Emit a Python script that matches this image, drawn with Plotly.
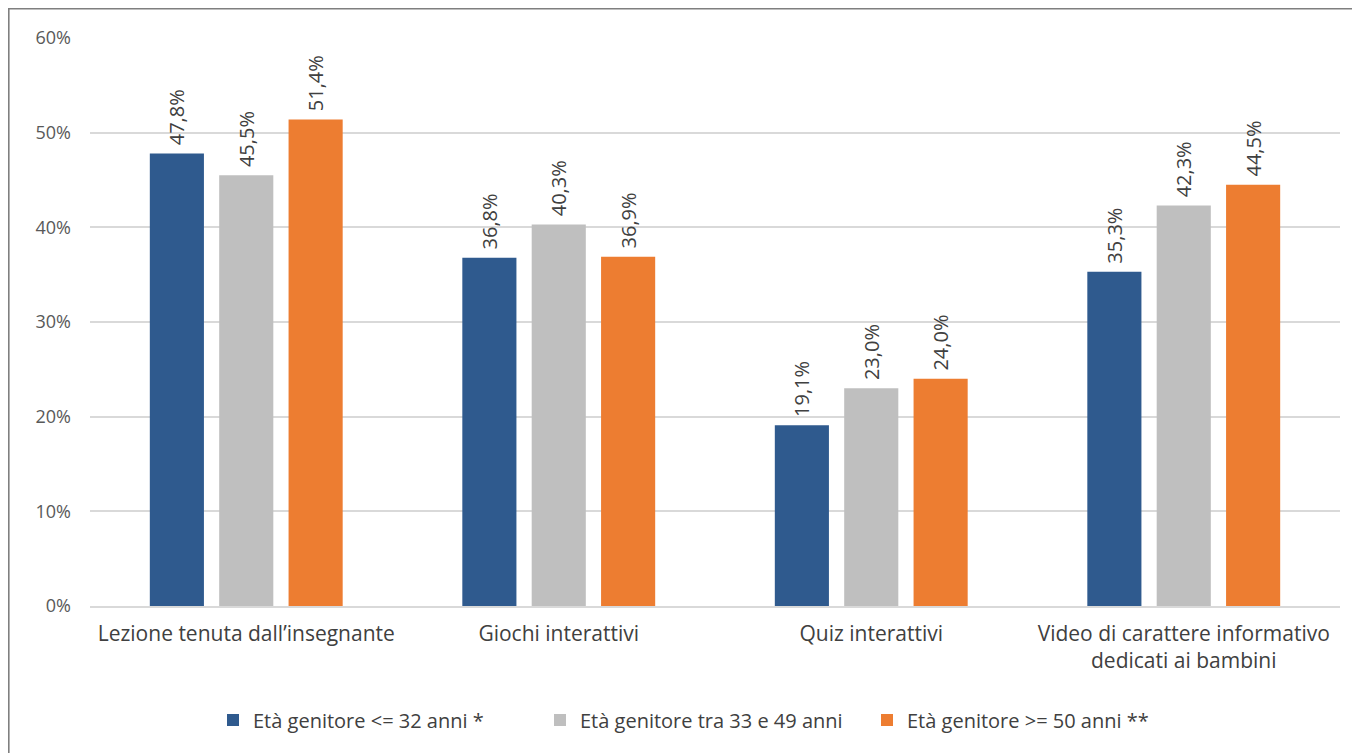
import plotly.graph_objects as go

categories = ["Lezione tenuta dall\u2019insegnante", "Giochi interattivi", "Quiz interattivi",
              "Video di carattere informativo<br>dedicati ai bambini"]
series_names = ["Et\u00e0 genitore <= 32 anni *", "Et\u00e0 genitore tra 33 e 49 anni", "Et\u00e0 genitore >= 50 anni **"]
v_young = [47.8, 36.8, 19.1, 35.3]
v_mid = [45.5, 40.3, 23.0, 42.3]
v_old = [51.4, 36.9, 24.0, 44.5]
colors = ["#2F5A8E", "#BFBFBF", "#ED7D31"]
tick_vals = [0, 10, 20, 30, 40, 50, 60]
tick_text = ["0%", "10%", "20%", "30%", "40%", "50%", "60%"]

# page body has an 8px default margin, so the figure starts at (8, 8)
W, H = 1352, 745
L, R, T, B = 82, 20, 30, 147

fig = go.Figure()
for name, vals, col in zip(series_names, [v_young, v_mid, v_old], colors):
    fig.add_trace(go.Bar(
        x=categories, y=vals, name=name, marker_color=col, marker_line_width=0,
        text=["\u00a0" + f"{v:.1f}%".replace(".", ",") + "\u00a0" for v in vals],
        textposition="outside", textangle=-90, constraintext="none",
        textfont=dict(family="Open Sans", size=20, color="#404040"),
        cliponaxis=False,
    ))

pw, ph = W - L - R, H - T - B
def px(x): return (x - L) / pw
def py(y): return (H - B - y) / ph

fig.add_shape(type="rect", xref="paper", yref="paper",
              x0=px(0.8), x1=px(W + 20), y0=py(0.8), y1=py(H + 20),
              line=dict(color="#7F7F7F", width=1.6), fillcolor="rgba(0,0,0,0)", layer="below")

fig.update_layout(
    width=W, height=H,
    margin=dict(l=L, r=R, t=T, b=B),
    paper_bgcolor="white", plot_bgcolor="white",
    barmode="group", bargap=0.334, bargroupgap=0.22,
    font=dict(family="Open Sans", color="#595959", size=20),
    showlegend=True,
    legend=dict(orientation="h", x=px(205), xanchor="left", y=py(712), yanchor="middle",
                font=dict(size=20, color="#404040"), traceorder="normal",
                itemwidth=30, itemsizing="constant", entrywidth=282, entrywidthmode="pixels"),
    yaxis=dict(range=[0, 60], tickvals=tick_vals, ticktext=tick_text,
               showgrid=True, gridcolor="#D9D9D9", gridwidth=1.5, zeroline=False,
               showline=False, ticks="", ticklabelstandoff=18,
               tickfont=dict(size=18, color="#595959")),
    xaxis=dict(showline=True, linecolor="#D9D9D9", linewidth=1.5, ticks="",
               ticklabelstandoff=8,
               tickfont=dict(size=21, color="#404040")),
)

fig.write_html("out.html")
